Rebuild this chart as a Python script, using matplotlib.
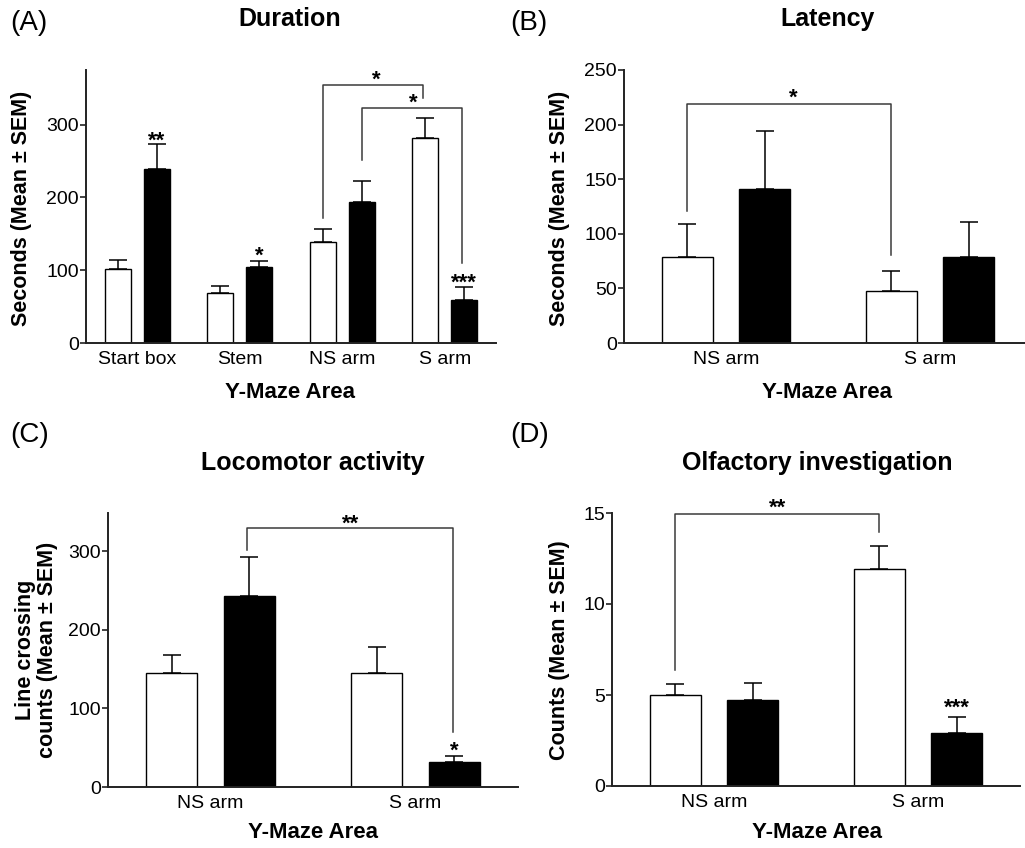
import matplotlib
matplotlib.use("Agg")
import matplotlib.pyplot as plt

plt.rcParams['font.family'] = ['Liberation Sans', 'DejaVu Sans']

W, H = 1025, 848

# (A) Duration
a_groups = ["Start box", "Stem", "NS arm", "S arm"]
a_white = [101, 69, 139, 282]
a_white_sem = [13, 9, 18, 27]
a_black = [239, 104, 194, 59]
a_black_sem = [34, 8, 29, 18]
a_yticks = [0, 100, 200, 300]

# (B) Latency
b_groups = ["NS arm", "S arm"]
b_white = [79, 48]
b_white_sem = [30, 18]
b_black = [141, 79]
b_black_sem = [53, 32]
b_yticks = [0, 50, 100, 150, 200, 250]

# (C) Locomotor activity
c_groups = ["NS arm", "S arm"]
c_white = [145, 145]
c_white_sem = [23, 33]
c_black = [243, 32]
c_black_sem = [50, 8]
c_yticks = [0, 100, 200, 300]

# (D) Olfactory investigation
d_groups = ["NS arm", "S arm"]
d_white = [5.0, 11.9]
d_white_sem = [0.6, 1.28]
d_black = [4.7, 2.9]
d_black_sem = [0.95, 0.88]
d_yticks = [0, 5, 10, 15]

# stars over single bars: (group index, label, y of star centre)
a_stars = [(0, "**", 289), (1, "*", 130), (3, "***", 94)]
b_stars = []
c_stars = [(1, "*", 56)]
d_stars = [(1, "***", 4.72)]

# brackets: (x start, y start, y top, x end, y end, label, label x, label y)
a_brackets = [(1.81, 172, 354, 2.79, 337, "*", 2.33, 373),
              (2.19, 252, 323, 3.17, 110, "*", 2.69, 341)]
b_brackets = [(-0.19, 121, 219, 0.81, 81, "*", 0.33, 232)]
c_brackets = [(0.18, 302, 330, 1.185, 70, "**", 0.685, 345)]
d_brackets = [(-0.19, 6.37, 14.93, 0.81, 13.96, "**", 0.31, 15.7)]

BW = 0.25
OFF = 0.19
STAR_FS = 16


def fig_text(fig, xpx, ypx, s, **kw):
    fig.text(xpx / W, 1 - ypx / H, s, **kw)


def star(ax, x, y, s):
    ax.annotate(s, xy=(x, y), xytext=(0, -0.62 * STAR_FS), textcoords='offset points',
                ha='center', va='baseline', fontsize=STAR_FS, fontweight='bold',
                annotation_clip=False)


def draw_panel(fig, rect, groups, white, white_sem, black, black_sem,
               yticks, ylim, stars, brackets):
    ax = fig.add_axes(rect)
    x = list(range(len(groups)))
    xw = [i - OFF for i in x]
    xb = [i + OFF for i in x]
    ax.bar(xw, white, BW, color='white', edgecolor='black', linewidth=1.0, zorder=2)
    ax.bar(xb, black, BW, color='black', edgecolor='black', linewidth=1.0, zorder=2)
    ax.errorbar(xw, white, yerr=[[0] * len(x), white_sem], fmt='none', ecolor='black',
                elinewidth=1.1, capsize=6.5, capthick=1.1, zorder=1)
    ax.errorbar(xb, black, yerr=[[0] * len(x), black_sem], fmt='none', ecolor='black',
                elinewidth=1.1, capsize=6.5, capthick=1.1, zorder=1)
    for gi, s, y in stars:
        star(ax, gi + OFF, y, s)
    for x1, y1, yt, x2, y2, s, lx, ly in brackets:
        ax.plot([x1, x1, x2, x2], [y1, yt, yt, y2], color='#3a3a3a', lw=1.1,
                clip_on=False, zorder=3)
        star(ax, lx, ly, s)
    ax.set_xlim(-0.5, len(groups) - 0.5)
    ax.set_ylim(*ylim)
    ax.set_xticks(x)
    ax.set_xticklabels(groups)
    ax.set_yticks(yticks)
    for side in ['top', 'right']:
        ax.spines[side].set_visible(False)
    for side in ['left', 'bottom']:
        ax.spines[side].set_linewidth(1.4)
        ax.spines[side].set_color('#222222')
    ax.tick_params(axis='x', length=0, pad=6, labelsize=14)
    ax.tick_params(axis='y', length=4.5, width=1.2, pad=0.5, labelsize=14,
                   color='#222222')
    return ax


fig = plt.figure(figsize=(W / 100, H / 100), dpi=100)

draw_panel(fig, [86 / W, 1 - 343 / H, 410 / W, 273 / H], a_groups, a_white, a_white_sem,
           a_black, a_black_sem, a_yticks, (0, 375), a_stars, a_brackets)
draw_panel(fig, [624 / W, 1 - 343 / H, 408 / W, 273 / H], b_groups, b_white, b_white_sem,
           b_black, b_black_sem, b_yticks, (0, 250), b_stars, b_brackets)
draw_panel(fig, [108 / W, 1 - 787 / H, 410 / W, 274 / H], c_groups, c_white, c_white_sem,
           c_black, c_black_sem, c_yticks, (0, 349), c_stars, c_brackets)
draw_panel(fig, [612 / W, 1 - 786 / H, 408 / W, 273 / H], d_groups, d_white, d_white_sem,
           d_black, d_black_sem, d_yticks, (0, 15), d_stars, d_brackets)

# panel letters
for xp, yp, s in [(10, 23, "(A)"), (510, 23, "(B)"), (10, 435, "(C)"), (510, 435, "(D)")]:
    fig_text(fig, xp, yp, s, fontsize=20, ha='left', va='center')

# titles
title_kw = dict(fontsize=18, fontweight='bold', ha='center', va='center')
fig_text(fig, 290, 19, "Duration", **title_kw)
fig_text(fig, 828, 19, "Latency", **title_kw)
fig_text(fig, 313, 463, "Locomotor activity", **title_kw)
fig_text(fig, 817, 463, "Olfactory investigation", **title_kw)

# x labels
xl_kw = dict(fontsize=16, fontweight='bold', ha='center', va='center')
fig_text(fig, 290, 393, "Y-Maze Area", **xl_kw)
fig_text(fig, 827, 393, "Y-Maze Area", **xl_kw)
fig_text(fig, 313, 833, "Y-Maze Area", **xl_kw)
fig_text(fig, 817, 833, "Y-Maze Area", **xl_kw)

# y labels
yl_kw = dict(fontsize=15.5, fontweight='bold', ha='center', va='center', rotation=90)
fig_text(fig, 22, 208, "Seconds (Mean ± SEM)", **yl_kw)
fig_text(fig, 560, 208, "Seconds (Mean ± SEM)", **yl_kw)
fig_text(fig, 25, 650, "Line crossing", **yl_kw)
fig_text(fig, 48, 650, "counts (Mean ± SEM)", **yl_kw)
fig_text(fig, 560, 650, "Counts (Mean ± SEM)", **yl_kw)

fig.savefig("out.png", dpi=100)
